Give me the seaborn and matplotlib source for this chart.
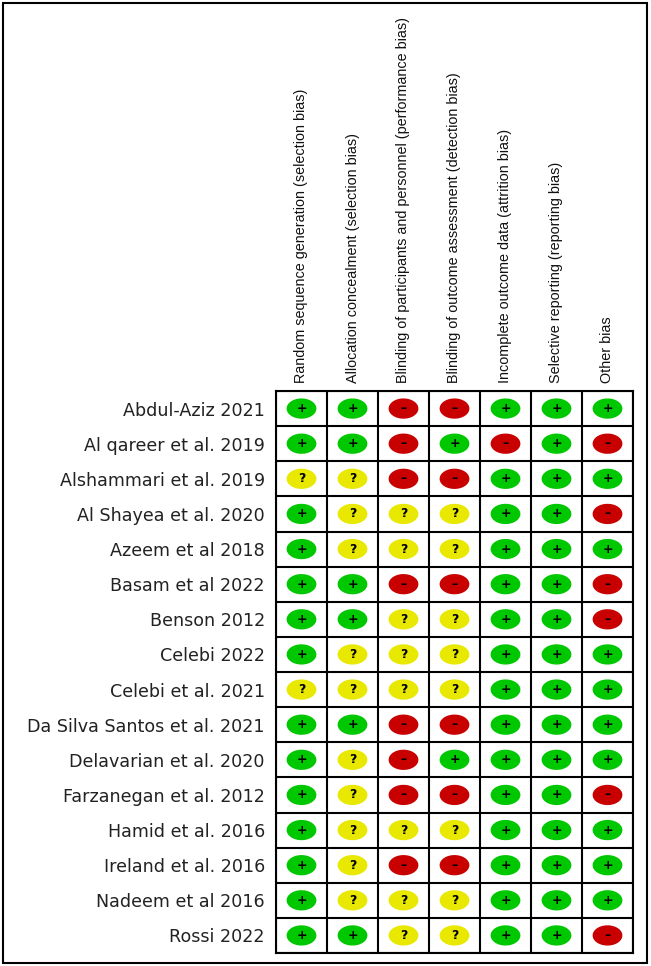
import matplotlib
matplotlib.use("Agg")
import matplotlib.pyplot as plt
import seaborn as sns
import pandas as pd
import numpy as np
from matplotlib.path import Path
from matplotlib.patches import Rectangle

studies = [
    "Abdul-Aziz 2021", "Al qareer et al. 2019", "Alshammari et al. 2019",
    "Al Shayea et al. 2020", "Azeem et al 2018", "Basam et al 2022",
    "Benson 2012", "Celebi 2022", "Celebi et al. 2021",
    "Da Silva Santos et al. 2021", "Delavarian et al. 2020",
    "Farzanegan et al. 2012", "Hamid et al. 2016", "Ireland et al. 2016",
    "Nadeem et al 2016", "Rossi 2022",
]
domains = [
    "Random sequence generation (selection bias)",
    "Allocation concealment (selection bias)",
    "Blinding of participants and personnel (performance bias)",
    "Blinding of outcome assessment (detection bias)",
    "Incomplete outcome data (attrition bias)",
    "Selective reporting (reporting bias)",
    "Other bias",
]
judgements = [
    "++--+++",
    "++-+-+-",
    "??--+++",
    "+???++-",
    "+???+++",
    "++--++-",
    "++??++-",
    "+???+++",
    "????+++",
    "++--+++",
    "+?-++++",
    "+?--++-",
    "+???+++",
    "+?--+++",
    "+???+++",
    "++??++-",
]

rows = []
for i, s in enumerate(studies):
    for j, d in enumerate(domains):
        rows.append({"study": i, "domain": j, "j": judgements[i][j]})
df = pd.DataFrame(rows)

palette = {"+": "#00c800", "?": "#e8e800", "-": "#c80000"}

sns.set_style("white")
plt.rcParams["font.family"] = ["DejaVu Sans"]

fig = plt.figure(figsize=(6.51, 9.66), dpi=100)
ax = fig.add_axes([276/651, 1-953/966, 357/651, 562/966])

t = np.linspace(0, 2*np.pi, 60)
ell = Path(np.column_stack([np.cos(t), 0.68*np.sin(t)]), closed=True)

sns.scatterplot(data=df, x="domain", y="study", hue="j", palette=palette,
                marker=ell, s=460, linewidth=0, legend=False, ax=ax, zorder=3)

for _, r in df.iterrows():
    sym = {"+": "+", "?": "?", "-": "\u2013"}[r["j"]]
    ax.text(r["domain"], r["study"], sym, ha="center", va="center",
            fontsize=9, fontweight="bold", color="black", zorder=4)

ax.set_xlim(-0.5, len(domains)-0.5)
ax.set_ylim(len(studies)-0.5, -0.5)
for k in range(len(domains)+1):
    ax.axvline(k-0.5, color="black", lw=1.5, zorder=2)
for k in range(len(studies)+1):
    ax.axhline(k-0.5, color="black", lw=1.5, zorder=2)
for sp in ax.spines.values():
    sp.set_visible(True)
    sp.set_color("black")
    sp.set_linewidth(1.5)

ax.set_xlabel("")
ax.set_ylabel("")
ax.xaxis.tick_top()
ax.set_xticks(range(len(domains)))
ax.set_xticklabels(domains, rotation=90, fontsize=10.4,
                   family=["Liberation Sans", "DejaVu Sans"], color="#111111")
ax.set_yticks(range(len(studies)))
ax.set_yticklabels(studies, fontsize=12.6, color="#222222")
ax.tick_params(axis="x", length=0, pad=6)
ax.tick_params(axis="y", length=0, pad=8)

fig.patches.append(Rectangle((3/651, 3/966), 644/651, 960/966, transform=fig.transFigure,
                             fill=False, edgecolor="black", lw=1.5))

fig.savefig("out.png", dpi=100, facecolor="white")
